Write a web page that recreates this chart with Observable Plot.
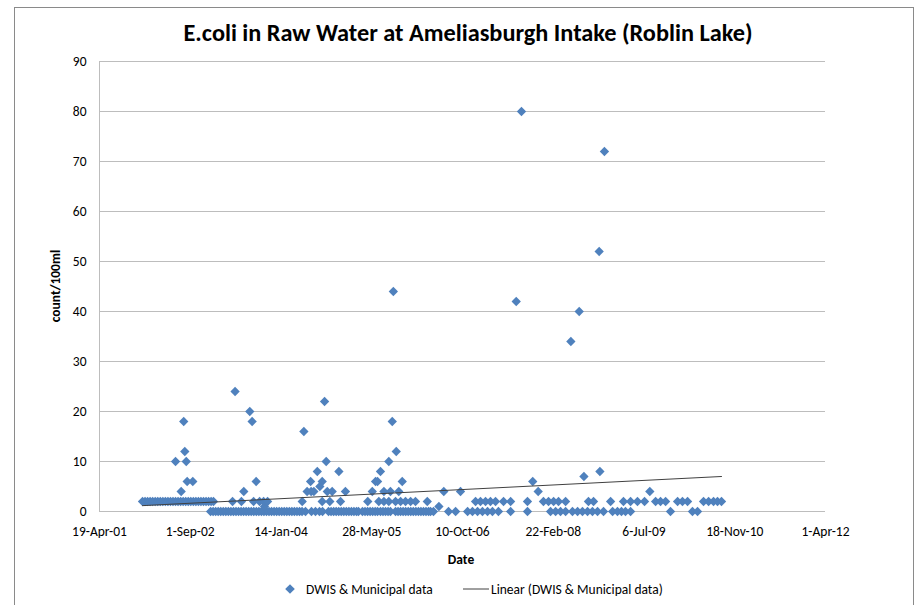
<!DOCTYPE html>
<html><head><meta charset="utf-8">
<script src="https://cdn.jsdelivr.net/npm/d3@7"></script>
<script src="https://cdn.jsdelivr.net/npm/@observablehq/plot@0.6"></script>
<style>
body{margin:0;background:#fff;}
#wrap{position:relative;width:922px;height:605px;overflow:hidden;font-family:Carlito,"Liberation Sans Narrow",Lato,sans-serif;color:#000;background:#fff;}
#frame{position:absolute;left:14px;top:7px;width:900px;height:640px;border:1px solid #8a8a8a;box-sizing:border-box;}
#chart{position:absolute;left:0;top:0;}
.c{position:absolute;white-space:nowrap;transform:translate(-50%,-50%);}
#title{left:468px;top:33px;font-size:24.3px;font-weight:bold;}
#ylabel{left:55px;top:286px;font-size:13.5px;font-weight:bold;transform:translate(-50%,-50%) rotate(-90deg);}
#xlabel{left:461px;top:559px;font-size:13.5px;font-weight:bold;}
.lg{position:absolute;top:589px;transform:translateY(-50%);font-size:13.5px;white-space:nowrap;}
</style></head><body>
<div id="wrap">
  <div id="frame"></div>
  <div id="chart"></div>
  <div id="title" class="c">E.coli in Raw Water at Ameliasburgh Intake (Roblin Lake)</div>
  <div id="ylabel" class="c">count/100ml</div>
  <div id="xlabel" class="c">Date</div>
  <svg class="lg" style="left:284px" width="12" height="12"><path d="M6,1.2L10.8,6L6,10.8L1.2,6Z" fill="#4F81BD"/></svg>
  <div class="lg" style="left:306px">DWIS &amp; Municipal data</div>
  <svg class="lg" style="left:463px" width="26" height="4"><line x1="0" y1="2" x2="26" y2="2" stroke="#404040" stroke-width="1"/></svg>
  <div class="lg" style="left:491px">Linear (DWIS &amp; Municipal data)</div>
</div>
<script>
// Dates are Excel serial day numbers (37000 = 19-Apr-01)
const xTickSerials = [37000, 37500, 38000, 38500, 39000, 39500, 40000, 40500, 41000];
const yTicks = [0, 10, 20, 30, 40, 50, 60, 70, 80, 90];

const count0 = [37612,37626,37640,37654,37668,37682,37696,37710,37724,37738,37752,37766,37780,37794,37808,37822,37836,37850,37864,37878,37892,37906,37920,37934,37948,37962,37976,37990,38004,38018,38032,38046,38060,38074,38088,38102,38116,
  38135,38168,38190,38212,38229,
  38262,38276,38290,38304,38318,38332,38346,38360,38374,38388,38402,38416,38427,
  38449,38463,38477,38491,38505,38519,38532,
  38548,38562,38576,38590,38603,
  38631,38645,38659,38673,38687,38701,38715,38729,38743,38757,38771,38785,38799,38813,38824,
  38840,38923,38962,39028,39055,39083,39110,39138,39165,39198,39265,39358,39485,39513,39540,39568,39606,39634,39661,39689,39716,39744,39777,39827,39854,39876,39898,39926,40146,40267,40295];
const count1 = [37909, 38870];
const count2 = [37237,37251,37265,37279,37293,37307,37321,37335,37349,37363,37377,37391,37405,37419,37433,37447,37461,37475,37489,37503,37517,37531,37545,37559,37573,37587,37601,37615,37628,
  37733,37782,37849,37882,37904,37926,
  38117,38227,38269,38328,38478,38539,38567,38594,38631,38659,38686,38714,38741,38806,
  39072,39099,39127,39154,39182,39226,39265,39358,39446,39474,39502,39529,39568,39694,39722,39816,39887,39926,39964,40003,40064,40091,40119,40185,40212,40240,40328,40356,40383,40405,40427];
const count4 = [37450,37795,38144,38166,38181,38255,38282,38355,38503,38567,38603,38649,38897,38989,39417,40032];
const count5 = [38214];
const count6 = [37483,37514,37863,38163,38227,38521,38532,38668,39387];
const count7 = [39669];
const count8 = [38200,38319,38548,39757];
const count10 = [37419,37478,38249,38594];
const count12 = [37470,38635];
const count16 = [38126];
const count18 = [37464,37841,38613];
const count20 = [37828];
const count22 = [38240];
const count24 = [37747];
const count34 = [39597];
const count40 = [39643];
const count42 = [39296];
const count44 = [38619];
const count52 = [39753];
const count72 = [39782];
const count80 = [39325];

// Linear trendline (start and end)
const trendSerials = [37237, 40427];
const trendValues = [1.17, 7.0];

const toDate = s => new Date(Date.UTC(1899, 11, 30) + s * 864e5);
const groups = [[0,count0],[1,count1],[2,count2],[4,count4],[5,count5],[6,count6],[7,count7],[8,count8],
  [10,count10],[12,count12],[16,count16],[18,count18],[20,count20],[22,count22],[24,count24],
  [34,count34],[40,count40],[42,count42],[44,count44],[52,count52],[72,count72],[80,count80]];
const data = groups.flatMap(([v, arr]) => arr.map(s => ({date: toDate(s), count: v})));
const trend = trendSerials.map((s, i) => ({date: toDate(s), count: trendValues[i]}));
const fmt = d3.utcFormat("%-d-%b-%y");

const chart = Plot.plot({
  width: 922, height: 605,
  marginLeft: 99, marginRight: 97, marginTop: 61, marginBottom: 94,
  style: {fontFamily: 'Carlito, "Liberation Sans Narrow", Lato, sans-serif', fontSize: "13.5px", color: "#000", background: "transparent", overflow: "visible"},
  x: {type: "utc", domain: [toDate(xTickSerials[0]), toDate(xTickSerials[xTickSerials.length-1])],
      ticks: xTickSerials.map(toDate), tickFormat: fmt, tickSize: 0, tickPadding: 15, label: null},
  y: {domain: [0, 90], ticks: yTicks, tickSize: 0, tickPadding: 13, label: null},
  marks: [
    Plot.ruleY(yTicks, {stroke: "#bdbdbd", strokeWidth: 1}),
    Plot.ruleX([toDate(xTickSerials[0])], {stroke: "#bdbdbd", strokeWidth: 1}),
    Plot.dot(data, {x: "date", y: "count", symbol: "diamond2", r: 4.2, fill: "#4F81BD", stroke: "none"}),
    Plot.line(trend, {x: "date", y: "count", stroke: "#404040", strokeWidth: 1})
  ]
});
document.getElementById("chart").appendChild(chart);
</script>
</body></html>
